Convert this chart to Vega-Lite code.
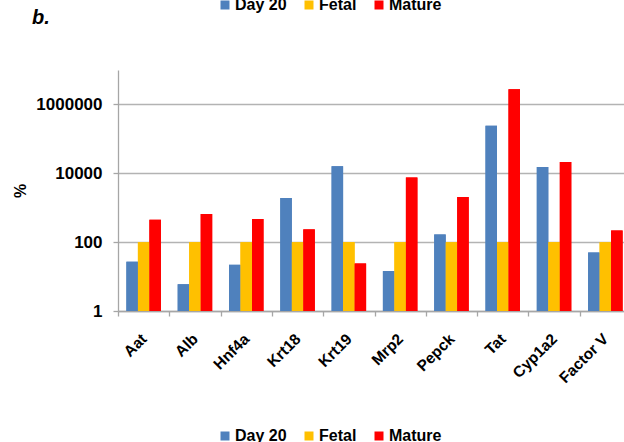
{
  "$schema": "https://vega.github.io/schema/vega-lite/v6.json",
  "autosize": "none",
  "width": 513,
  "height": 241,
  "padding": {"left": 118, "top": 70, "right": -7, "bottom": 131},
  "background": "white",
  "title": {
    "text": "b.",
    "anchor": "start",
    "frame": "group",
    "dx": -86,
    "offset": -47,
    "baseline": "alphabetic",
    "font": "Liberation Sans",
    "fontSize": 20,
    "fontWeight": "bold",
    "fontStyle": "italic",
    "color": "#000000"
  },
  "config": {
    "view": {"stroke": null},
    "font": "Liberation Sans",
    "legend": {"padding": 0}
  },
  "data": {
    "values": [
      {"gene": "Aat", "stage": "Day 20", "value": 27},
      {"gene": "Aat", "stage": "Fetal", "value": 100},
      {"gene": "Aat", "stage": "Mature", "value": 450},
      {"gene": "Alb", "stage": "Day 20", "value": 6},
      {"gene": "Alb", "stage": "Fetal", "value": 100},
      {"gene": "Alb", "stage": "Mature", "value": 660},
      {"gene": "Hnf4a", "stage": "Day 20", "value": 22},
      {"gene": "Hnf4a", "stage": "Fetal", "value": 100},
      {"gene": "Hnf4a", "stage": "Mature", "value": 470},
      {"gene": "Krt18", "stage": "Day 20", "value": 1900},
      {"gene": "Krt18", "stage": "Fetal", "value": 100},
      {"gene": "Krt18", "stage": "Mature", "value": 235},
      {"gene": "Krt19", "stage": "Day 20", "value": 16000},
      {"gene": "Krt19", "stage": "Fetal", "value": 100},
      {"gene": "Krt19", "stage": "Mature", "value": 24},
      {"gene": "Mrp2", "stage": "Day 20", "value": 14.5},
      {"gene": "Mrp2", "stage": "Fetal", "value": 100},
      {"gene": "Mrp2", "stage": "Mature", "value": 7500},
      {"gene": "Pepck", "stage": "Day 20", "value": 167},
      {"gene": "Pepck", "stage": "Fetal", "value": 100},
      {"gene": "Pepck", "stage": "Mature", "value": 2050},
      {"gene": "Tat", "stage": "Day 20", "value": 241000},
      {"gene": "Tat", "stage": "Fetal", "value": 100},
      {"gene": "Tat", "stage": "Mature", "value": 2770000},
      {"gene": "Cyp1a2", "stage": "Day 20", "value": 15200},
      {"gene": "Cyp1a2", "stage": "Fetal", "value": 100},
      {"gene": "Cyp1a2", "stage": "Mature", "value": 21300},
      {"gene": "Factor V", "stage": "Day 20", "value": 50},
      {"gene": "Factor V", "stage": "Fetal", "value": 100},
      {"gene": "Factor V", "stage": "Mature", "value": 218}
    ]
  },
  "encoding": {
    "x": {
      "field": "gene",
      "type": "nominal",
      "sort": null,
      "scale": {"paddingInner": 0, "paddingOuter": 0},
      "axis": {
        "title": null,
        "tickBand": "extent",
        "domainColor": "#a6a6a6",
        "domainWidth": 1.3,
        "tickColor": "#a6a6a6",
        "tickWidth": 1.3,
        "tickSize": 5,
        "labelAngle": -45,
        "labelAlign": "right",
        "labelBaseline": "middle",
        "labelFont": "Liberation Sans",
        "labelFontSize": 15.5,
        "labelFontWeight": "bold",
        "labelColor": "#000000",
        "labelPadding": 20,
        "grid": false
      }
    },
    "xOffset": {
      "field": "stage",
      "type": "nominal",
      "sort": ["Day 20", "Fetal", "Mature"],
      "scale": {"paddingInner": 0, "paddingOuter": 0.73}
    },
    "y": {
      "field": "value",
      "type": "quantitative",
      "scale": {"type": "log", "domain": [1, 10000000], "nice": false},
      "axis": {
        "title": "%",
        "titleFont": "Liberation Sans",
        "titleFontSize": 16,
        "titleFontWeight": "bold",
        "titleColor": "#000000",
        "titlePadding": 7,
        "values": [1, 100, 10000, 1000000],
        "format": "d",
        "labelFont": "Liberation Sans",
        "labelFontSize": 17,
        "labelFontWeight": "bold",
        "labelColor": "#000000",
        "labelPadding": 11,
        "tickSize": 5,
        "tickColor": "#a6a6a6",
        "tickWidth": 1.3,
        "domainColor": "#a6a6a6",
        "domainWidth": 1.3,
        "grid": true,
        "gridColor": "#b3b3b3",
        "gridWidth": 1.3
      }
    },
    "y2": {"datum": 1}
  },
  "layer": [
    {
      "mark": {"type": "bar"},
      "encoding": {
        "color": {
          "field": "stage",
          "type": "nominal",
          "sort": ["Day 20", "Fetal", "Mature"],
          "scale": {"range": ["#4f81bd", "#ffc000", "#ff0000"]},
          "legend": {
            "title": null,
            "orient": "none",
            "direction": "horizontal",
            "legendX": 99,
            "legendY": -73,
            "symbolType": "square",
            "symbolSize": 81,
            "symbolStrokeWidth": 0,
            "labelFont": "Liberation Sans",
            "labelFontSize": 16,
            "labelFontWeight": "bold",
            "labelColor": "#000000",
            "labelOffset": 2,
            "columnPadding": 14
          }
        }
      }
    },
    {
      "mark": {"type": "bar"},
      "encoding": {
        "fill": {
          "field": "stage",
          "type": "nominal",
          "sort": ["Day 20", "Fetal", "Mature"],
          "scale": {"domain": ["Day 20", "Fetal", "Mature"], "range": ["#4f81bd", "#ffc000", "#ff0000"]},
          "legend": {
            "title": null,
            "orient": "none",
            "direction": "horizontal",
            "legendX": 99,
            "legendY": 358,
            "symbolType": "square",
            "symbolSize": 81,
            "symbolStrokeWidth": 0,
            "labelFont": "Liberation Sans",
            "labelFontSize": 16,
            "labelFontWeight": "bold",
            "labelColor": "#000000",
            "labelOffset": 2,
            "columnPadding": 14
          }
        }
      }
    }
  ]
}
